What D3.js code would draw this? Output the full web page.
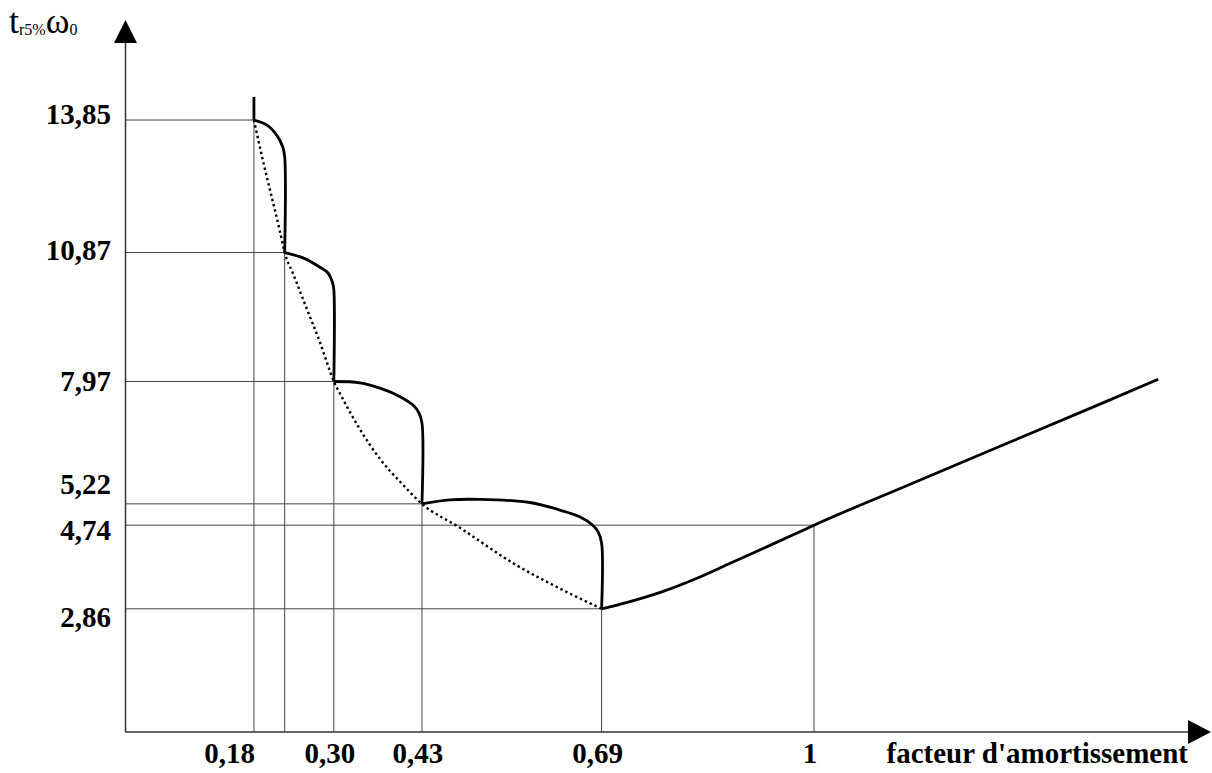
<!DOCTYPE html>
<html>
<head>
<meta charset="utf-8">
<script src="https://cdn.jsdelivr.net/npm/d3@7"></script>
<style>
  body { margin: 0; background: #fff; }
  svg { display: block; }
  .lbl { font-family: "Liberation Serif", "Times New Roman", serif; font-weight: bold; font-size: 29px; fill: #000; }
  .guide { stroke: #444; stroke-width: 1; fill: none; }
  .axis-line { stroke: #333; stroke-width: 1.5; fill: none; }
</style>
</head>
<body>
<svg id="chart" width="1212" height="773"></svg>
<script>
// reference points (zeta, t) where the guide lines meet the curve
var guideZeta = [0.180, 0.225, 0.297, 0.426, 0.689, 1];
var guideT    = [13.85, 10.87, 7.97, 5.22, 2.86, 4.74];
var zetaLabels = ["0,18", "", "0,30", "0,43", "0,69", "1"];
var tLabels    = ["13,85", "10,87", "7,97", "5,22", "2,86", "4,74"];

// solid curve : t_r5% * w0 as a function of the damping factor
var stub = [[0.180, 14.37], [0.180, 13.85]];
var arc1 = [[0.180, 13.85], [0.1987, 13.74], [0.2133, 13.51], [0.2221, 13.25], [0.2250, 13.02], [0.2250, 10.87]];
var arc2 = [[0.225, 10.87], [0.2518, 10.75], [0.2767, 10.54], [0.2884, 10.41], [0.2953, 10.18], [0.297, 10.03], [0.297, 7.97]];
var arc3 = [[0.297, 7.97], [0.3353, 7.94], [0.3646, 7.82], [0.3939, 7.63], [0.4129, 7.44], [0.4217, 7.26], [0.426, 7.04], [0.426, 5.22]];
var arc4 = [[0.426, 5.22], [0.467, 5.31], [0.511, 5.32], [0.584, 5.25], [0.628, 5.08], [0.657, 4.93], [0.676, 4.74], [0.684, 4.59], [0.689, 4.34], [0.689, 2.86]];
var rise = [[0.689, 2.86], [0.728, 3.01], [0.777, 3.24], [0.826, 3.53], [0.874, 3.86], [0.923, 4.20], [0.972, 4.54], [1, 4.74], [1.127, 5.57], [1.275, 6.53], [1.423, 7.49], [1.504, 8.02]];

// dotted envelope through the discontinuities
var envelope = [[0.180, 13.85], [0.1937, 12.90], [0.206, 12.12], [0.218, 11.35], [0.225, 10.87],
                [0.2377, 10.38], [0.257, 9.62], [0.2767, 8.85], [0.291, 8.22], [0.297, 7.97],
                [0.306, 7.70], [0.335, 6.90], [0.365, 6.22], [0.395, 5.70], [0.426, 5.22],
                [0.4817, 4.68], [0.559, 3.89], [0.6325, 3.28], [0.689, 2.86]];

var svg = d3.select("#chart");

var originX = 125.5, originY = 732;   // where the two axes cross

var x = d3.scaleLinear().domain([0, 1]).range([131, 814]);
var y = d3.scaleLinear().domain([0, 13.85]).range([736, 120]);

// ---- guide lines (thin) ----
var guides = svg.append("g");
guideZeta.forEach(function(z, i) {
  guides.append("line").attr("class", "guide")
      .attr("x1", originX).attr("x2", x(z))
      .attr("y1", y(guideT[i])).attr("y2", y(guideT[i]));
  guides.append("line").attr("class", "guide")
      .attr("x1", x(z)).attr("x2", x(z))
      .attr("y1", originY).attr("y2", y(guideT[i]));
});

// ---- axes with arrows ----
svg.append("line").attr("class", "axis-line")
    .attr("x1", originX).attr("x2", 1192)
    .attr("y1", originY).attr("y2", originY);
svg.append("line").attr("class", "axis-line")
    .attr("x1", originX).attr("x2", originX)
    .attr("y1", originY).attr("y2", 40);
svg.append("path")
    .attr("d", "M" + originX + ",20 L" + (originX - 11.5) + ",43 L" + (originX + 11.5) + ",43 Z")
    .attr("fill", "#000");
svg.append("path")
    .attr("d", "M1211," + originY + " L1188," + (originY - 12) + " L1188," + (originY + 12) + " Z")
    .attr("fill", "#000");

// ---- curves ----
var line = d3.line()
    .x(function(d) { return x(d[0]); })
    .y(function(d) { return y(d[1]); });

svg.append("path")
    .datum(envelope)
    .attr("d", line.curve(d3.curveMonotoneX))
    .attr("fill", "none")
    .attr("stroke", "#000")
    .attr("stroke-width", 2.4)
    .attr("stroke-dasharray", "2.4,3");

line.curve(d3.curveCatmullRom.alpha(0.5));
svg.selectAll(".solid")
    .data([stub, arc1, arc2, arc3, arc4])
  .enter().append("path")
    .attr("class", "solid")
    .attr("d", line)
    .attr("fill", "none")
    .attr("stroke", "#000")
    .attr("stroke-width", 2.8)
    .attr("stroke-linejoin", "round");

svg.append("path")
    .datum(rise)
    .attr("d", line.curve(d3.curveMonotoneX))
    .attr("fill", "none")
    .attr("stroke", "#000")
    .attr("stroke-width", 2.8)
    .attr("stroke-linejoin", "round");

// ---- labels ----
// small vertical nudges so the labels don't collide (same order as tLabels)
var tNudge = [4, 7, 9, -10, 18, 15];
svg.selectAll(".ylbl")
    .data(tLabels)
  .enter().append("text")
    .attr("class", "lbl")
    .attr("x", 111)
    .attr("y", function(d, i) { return y(guideT[i]) + tNudge[i]; })
    .attr("text-anchor", "end")
    .text(function(d) { return d; });

svg.selectAll(".xlbl")
    .data(zetaLabels)
  .enter().append("text")
    .attr("class", "lbl")
    .attr("x", function(d, i) { return i === 0 ? x(guideZeta[i]) + 1 : x(guideZeta[i]) - 4; })
    .attr("y", 763)
    .attr("text-anchor", function(d, i) { return i === 0 ? "end" : "middle"; })
    .text(function(d) { return d; });

svg.append("text")
    .attr("class", "lbl")
    .attr("x", 1188).attr("y", 763)
    .attr("text-anchor", "end")
    .text("facteur d'amortissement");

// y axis title  t_{r5%} w_0
var title = svg.append("text")
    .attr("x", 9).attr("y", 33)
    .style("font-family", "'Liberation Serif', 'Times New Roman', serif")
    .style("fill", "#000");
title.append("tspan").style("font-size", "36px").text("t");
title.append("tspan").style("font-size", "16px").attr("dy", 2).text("r5%");
title.append("tspan").style("font-size", "36px").attr("dy", -2).text("ω");
title.append("tspan").style("font-size", "16px").attr("dy", 2).text("0");
</script>
</body>
</html>
